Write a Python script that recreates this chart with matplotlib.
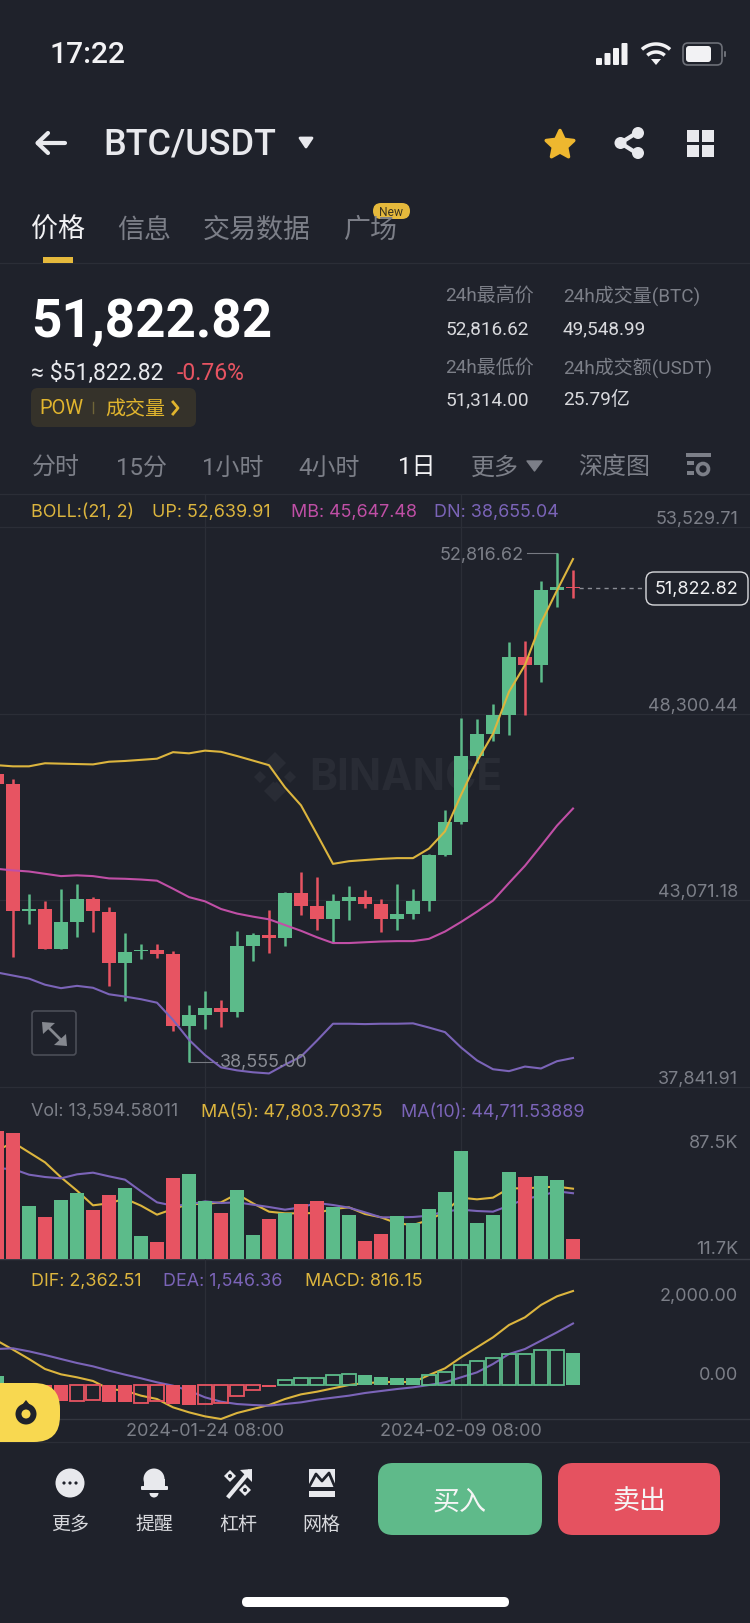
import matplotlib
matplotlib.use('Agg')
import matplotlib.pyplot as plt
import numpy as np
from matplotlib.patches import Circle, FancyBboxPatch, Polygon, Rectangle

plt.rcParams['font.family'] = ['Roboto', 'Noto Sans CJK SC', 'DejaVu Sans']
CHART_FONT = ['Inter', 'DejaVu Sans']

# ---- data ----
opens = [46616, 46326, 42767, 42821, 41717, 42478, 43121, 42756, 41309, 41642, 41674, 41556, 39551,
         39873, 40066, 39948, 41802, 42092, 42027, 43271, 42917, 42553, 43057, 43174, 42982, 42563,
         42681, 43067, 44332, 45265, 47119, 47730, 48277, 49896, 49682, 51783, 51847]
closes = [46326, 42767, 42831, 41717, 42478, 43110, 42767, 41309, 41631, 41695, 41556, 39551, 39873,
          40055, 39948, 41802, 42092, 42027, 43282, 42917, 42553, 43057, 43174, 42982, 42563, 42681,
          43067, 44332, 45265, 47119, 47730, 48277, 49896, 49682, 51783, 51847, 51822.82]
highs = [46700, 46487, 43239, 43057, 43378, 43539, 43174, 42896, 42167, 41845, 41845, 41663, 40151,
         40527, 40280, 42220, 42167, 42810, 43314, 43861, 43721, 43260, 43475, 43367, 43110, 43539,
         43378, 44364, 45597, 48191, 48149, 48567, 50314, 50346, 52029, 52816.62, 52329]
lows = [46326, 41481, 42413, 41717, 41717, 42038, 42188, 40666, 40259, 41438, 41470, 39422, 38555,
        39465, 39530, 39808, 41374, 41588, 41781, 42660, 42253, 41888, 42531, 42853, 42188, 42242,
        42553, 42767, 44311, 45222, 46937, 47527, 47698, 48277, 49199, 51300, 51536]
boll_up = [46862, 46830, 46830, 46916, 46905, 46894, 46884, 46959, 46980, 47012, 47044, 47227, 47194,
           47270, 47237, 47119, 46991, 46862, 46240, 45737, 44922, 44096, 44171, 44204, 44236, 44257,
           44257, 44525, 45008, 46026, 46969, 47741, 48920, 49671, 50850, 51761, 52639.91]
boll_mb = [43957, 43914, 43882, 43818, 43753, 43775, 43753, 43689, 43678, 43657, 43625, 43400, 43164,
           43046, 42831, 42703, 42617, 42542, 42381, 42220, 42038, 41877, 41877, 41899, 41920, 41931,
           41931, 41995, 42199, 42467, 42756, 43067, 43560, 44043, 44600, 45168, 45647.48]
boll_dn = [41052, 40966, 40880, 40709, 40612, 40677, 40623, 40441, 40377, 40302, 40205, 39723, 39165,
           38736, 38393, 38308, 38254, 38222, 38468, 38694, 39144, 39615, 39615, 39605, 39615, 39615,
           39626, 39508, 39380, 38951, 38586, 38340, 38286, 38415, 38361, 38565, 38655.04]
volumes = [86788, 85881, 36029, 28325, 40108, 44867, 33310, 43734, 48039, 15862, 11783, 55290, 57556,
           39202, 31044, 47133, 16315, 27192, 31271, 37389, 39655, 35123, 29685, 12010, 17222, 29231,
           24699, 34217, 45320, 73192, 24699, 30138, 58916, 55517, 56650, 53478, 13594.58]
vol_ma5 = [73645, 79310, 72512, 65714, 55517, 46453, 36483, 37842, 41015, 36256, 30138, 33990, 37389,
           37389, 38522, 44187, 37842, 32177, 31044, 31044, 31271, 33990, 35123, 30591, 28325, 24246,
           23113, 26512, 32177, 41694, 40561, 41694, 48039, 48039, 48719, 49172, 47803.70]
vol_ma10 = [61635, 61182, 57330, 55744, 54837, 57556, 58689, 56197, 53931, 46000, 38522, 36256, 36936,
            39202, 38069, 38522, 36936, 35350, 33537, 35123, 38069, 36709, 34896, 31724, 28325, 28325,
            28552, 29458, 32404, 33537, 32630, 32177, 36256, 40788, 43054, 46000, 44711.54]
macd_hist = [218, -67, -126, -168, -402, -402, -385, -436, -436, -444, -411, -478, -494, -478, -444,
             -268, -126, -59, 126, 184, 184, 251, 268, 251, 201, 168, 168, 251, 327, 494, 603, 679,
             788, 788, 871, 871, 816.15]
macd_hollow = [0, 0, 0, 0, 0, 1, 1, 0, 0, 1, 1, 0, 0, 1, 1, 1, 1, 0, 1, 1, 1, 1, 1, 0, 0, 0, 0, 1, 1, 1,
               1, 1, 1, 1, 1, 1, 0]
dif = [1114, 888, 653, 402, 268, 193, 101, -101, -142, -268, -352, -561, -687, -788, -855, -704, -603,
       -503, -352, -235, -168, -84, 0, 50, 67, 84, 67, 251, 419, 695, 947, 1198, 1508, 1701, 2011, 2229,
       2362.51]
dea = [905, 922, 846, 754, 653, 553, 469, 360, 260, 168, 67, -17, -142, -310, -419, -478, -503, -519,
       -478, -436, -369, -318, -268, -201, -151, -101, -59, 0, 67, 193, 318, 528, 779, 905, 1114, 1324,
       1546.36]

price_ticks = [53529.71, 48300.44, 43071.18, 37841.91]
price_tick_labels = ['53,529.71', '48,300.44', '43,071.18', '37,841.91']
date_idx = [13, 29]
date_labels = ['2024-01-24 08:00', '2024-02-09 08:00']
high_idx, low_idx, last_idx = 35, 12, 36
high_label, low_label, last_label = '52,816.62', '38,555.00', '51,822.82'

# ---- colours ----
BG = '#1f222b'
GRID = '#2b2e37'
GREEN = '#5cbb8a'
RED = '#e75462'
YELLOW = '#dcb53e'
PINK = '#c04fa6'
PURPLE = '#7b64b8'
GRAY = '#7c7f88'
LIGHT = '#e8e9ed'
W, H = 750, 1624

fig = plt.figure(figsize=(W / 100, H / 100), dpi=100, facecolor=BG)


def pixel_axes(zorder):
    ax = fig.add_axes([0, 0, 1, 1], zorder=zorder)
    ax.set_xlim(0, W)
    ax.set_ylim(H, 0)
    ax.axis('off')
    ax.patch.set_alpha(0)
    return ax


def panel(top, bottom, ymin, ymax):
    ax = fig.add_axes([0, 1 - bottom / H, 1, (bottom - top) / H], zorder=1)
    ax.set_xlim(3 / 16, 753 / 16)
    ax.set_ylim(ymin, ymax)
    ax.axis('off')
    ax.patch.set_alpha(0)
    for i in date_idx:
        ax.axvline(i, color=GRID, lw=0.9, zorder=0)
    return ax


back = pixel_axes(0)
over = pixel_axes(2)


def label(x, y, s, px, color=GRAY, ha='left', va='center', weight='normal', family=None):
    over.text(x, y, s, fontsize=px * 0.72, color=color, ha=ha, va=va, fontweight=weight,
              family=family or plt.rcParams['font.family'])


def chart_label(x, y, s, px=17.9, color=GRAY, ha='left'):
    label(x, y, s, px, color=color, ha=ha, family=CHART_FONT)


def rrect(x0, y0, x1, y1, r, fc='none', ec='none', lw=0):
    over.add_patch(FancyBboxPatch((x0, y0), x1 - x0, y1 - y0,
                                  boxstyle=f'round,pad=0,rounding_size={r}',
                                  fc=fc, ec=ec, lw=lw))


def poly(pts, color, lw=0, ax=None):
    (ax or over).add_patch(Polygon(pts, closed=True, fc=color, ec=color, lw=lw, joinstyle='round'))


def arc(cx, cy, r, lw, color=LIGHT):
    t = np.radians(np.linspace(48, 132, 30))
    over.plot(cx + r * np.cos(t), cy - r * np.sin(t), color=color, lw=lw, solid_capstyle='butt')


# ---- watermark, behind the candles ----
for dx, dy, s in [(275, 764, 11), (260, 778, 6), (290, 778, 6), (275, 792, 11)]:
    poly([(dx - s, dy), (dx, dy - s), (dx + s, dy), (dx, dy + s)], '#292c35', ax=back)
poly([(275, 772), (281, 778), (275, 784), (269, 778)], BG, ax=back)
back.text(309, 779, 'BINANCE', fontsize=30.5, color='#292c35', fontweight='bold', ha='left', va='center',
          family=CHART_FONT)

# ---- price panel ----
PX_PRICE = (53529.71 - 37841.91) / (1088 - 528.3)
ax_p = panel(495, 1088, 37841.91, 53529.71 + 33.3 * PX_PRICE)
for p in price_ticks:
    ax_p.axhline(p, color=GRID, lw=0.9, zorder=0, clip_on=False)

idx = np.arange(len(opens))
candle_colors = [GREEN if c >= o else RED for o, c in zip(opens, closes)]
ax_p.vlines(idx, lows, highs, colors=candle_colors, lw=1.8, zorder=2)
ax_p.bar(idx, np.array(closes) - np.array(opens), bottom=opens, width=0.875, color=candle_colors, zorder=2)
ax_p.plot(idx, boll_mb, color=PINK, lw=1.5, zorder=3)
ax_p.plot(idx, boll_dn, color=PURPLE, lw=1.5, zorder=3)
ax_p.plot(idx, boll_up, color=YELLOW, lw=1.5, zorder=3)

ax_p.plot([high_idx - 1.9, high_idx], [highs[high_idx]] * 2, color='#777a82', lw=0.8, zorder=1)
ax_p.text(high_idx - 2.06, highs[high_idx] - 50, high_label, color=GRAY, fontsize=18 * 0.72, ha='right', va='center',
          family=CHART_FONT)
ax_p.plot([low_idx, low_idx + 1.75], [lows[low_idx]] * 2, color='#777a82', lw=0.8, zorder=1)
ax_p.text(low_idx + 1.95, lows[low_idx], low_label, color='#8a8d95', fontsize=18 * 0.72, ha='left', va='center',
          zorder=4, family=CHART_FONT)
ax_p.plot([last_idx + 0.4, last_idx + 4.56], [closes[last_idx]] * 2, color='#8a8d95', lw=1, ls=(0, (3, 3)), zorder=1)

for y, s in zip([520, 706.5, 893, 1079.5], price_tick_labels):
    chart_label(738, y, s, 18, ha='right')
rrect(646, 573, 748, 606, 8, fc=BG, ec='#d8d9dd', lw=1)
chart_label(738, 589.5, last_label, 18, color='#f0f0f2', ha='right')

chart_label(31, 512, 'BOLL:(21, 2)', color=YELLOW)
chart_label(152, 512, 'UP: 52,639.91', color=YELLOW)
chart_label(291, 512, 'MB: 45,647.48', color=PINK)
chart_label(434, 512, 'DN: 38,655.04', color=PURPLE)
back.plot([0, W], [495, 495], color=GRID, lw=0.9)

# ---- volume panel ----
ax_v = panel(1088, 1260, 0, 116926)
ax_v.plot(idx, vol_ma5, color=YELLOW, lw=1.5, zorder=2)
ax_v.plot(idx, vol_ma10, color=PURPLE, lw=1.5, zorder=2)
ax_v.bar(idx, volumes, width=0.875, color=candle_colors, zorder=3)
ax_v.axhline(0, color='#3a3d46', lw=1, zorder=1, clip_on=False)
chart_label(31, 1112, 'Vol: 13,594.58011')
chart_label(201, 1112, 'MA(5): 47,803.70375', color=YELLOW)
chart_label(401, 1112, 'MA(10): 44,711.53889', color=PURPLE)
chart_label(738, 1144, '87.5K', 18, ha='right')
chart_label(738, 1250, '11.7K', 18, ha='right')

# ---- MACD panel ----
PX_MACD = 8.378 * 3
ax_m = panel(1260, 1420, -34 * PX_MACD, 126 * PX_MACD)
ax_m.plot(idx, dif, color=YELLOW, lw=1.5, zorder=2, clip_on=False)
ax_m.plot(idx, dea, color=PURPLE, lw=1.5, zorder=2)
for i, v in enumerate(macd_hist):
    c = GREEN if v >= 0 else RED
    ax_m.bar(i, v, width=0.84 if macd_hollow[i] else 0.875, facecolor='none' if macd_hollow[i] else c,
             edgecolor=c, lw=1.3 if macd_hollow[i] else 0, zorder=3)
ax_m.axhline(-34 * PX_MACD, color='#33363f', lw=1, zorder=0, clip_on=False)
for i, s in zip(date_idx, date_labels):
    ax_m.text(i, -0.075, s, transform=ax_m.get_xaxis_transform(), color=GRAY, fontsize=18 * 0.72,
              ha='center', va='center', clip_on=False, family=CHART_FONT)
chart_label(31, 1282, 'DIF: 2,362.51', color=YELLOW)
chart_label(163, 1282, 'DEA: 1,546.36', color=PURPLE)
chart_label(305, 1282, 'MACD: 816.15', color=YELLOW)
chart_label(738, 1297, '2,000.00', 18, ha='right')
chart_label(738, 1376, '0.00', 18, ha='right')
back.plot([0, W], [1442.7, 1442.7], color=GRID, lw=0.9)

# ---- status bar ----
label(49, 55, '17:22', 30, color='#f2f2f4', weight='medium')
for x, top in zip([596, 604.5, 613, 621.5], [59, 54, 49, 44]):
    rrect(x, top, x + 6, 66, 1, fc='#f2f2f4')
arc(656, 66, 21, 2.5, '#f2f2f4')
arc(656, 66, 13, 2.5, '#f2f2f4')
poly([(651, 60), (661, 60), (656, 66)], '#f2f2f4')
rrect(683, 44, 722, 66, 5, ec='#6c6f77', lw=1.2)
rrect(686, 47, 711, 63, 3, fc='#f2f2f4')
rrect(724, 52, 726, 58, 1, fc='#6c6f77')

# ---- title row ----
over.plot([38, 65], [144, 144], color=LIGHT, lw=3, solid_capstyle='round')
over.plot([48, 37.5, 48], [134, 144, 154], color=LIGHT, lw=3, solid_capstyle='round', solid_joinstyle='round')
label(103, 145, 'BTC/USDT', 36, color=LIGHT, weight='medium')
poly([(300, 139), (312, 139), (306, 148)], LIGHT, lw=2)
t = np.radians(np.arange(10) * 36)
r = np.where(np.arange(10) % 2 == 0, 14.5, 7)
poly(np.c_[560 + r * np.sin(t), 146 - r * np.cos(t)], '#eeb72f', lw=2.5)
over.plot([638, 620.5, 638], [133, 144, 155], color=LIGHT, lw=3)
for cx, cy, rr in [(638, 134, 6), (620.5, 144, 6), (638, 154, 6)]:
    over.add_patch(Circle((cx, cy), rr, fc=LIGHT, ec='none'))
for x0, y0 in [(687, 131), (702, 131), (687, 146), (702, 146)]:
    over.add_patch(Rectangle((x0, y0), 12, 12, fc=LIGHT, ec='none'))

# ---- tabs ----
label(31, 230, '价格', 27, color='#f2f2f4')
for x, s in [(117, '信息'), (203, '交易数据'), (344, '广场')]:
    label(x, 230, s, 27)
rrect(373, 204, 410, 220, 8, fc='#e5b93c')
label(391.5, 212, 'New', 12, color='#3b3420', ha='center')
over.add_patch(Rectangle((43, 258), 30, 5.5, fc='#e5b93c', ec='none'))
back.plot([0, W], [263.5, 263.5], color=GRID, lw=0.9)

# ---- ticker block ----
label(31, 322, '51,822.82', 53, color='#ffffff', weight='bold')
label(31, 373, '≈ $51,822.82', 23, color=LIGHT)
label(177, 373, '-0.76%', 23, color=RED)
rrect(31, 389, 196, 428, 7, fc='#35322a')
label(39, 409, 'POW', 20, color='#e0b42e')
over.plot([93, 93], [403, 414], color='#6f6538', lw=1)
label(105, 410, '成交量', 20, color='#e0b42e')
over.plot([173, 178, 173], [403, 409, 415], color='#e0b42e', lw=2)
label(445.5, 296, '24h最高价', 19)
label(563, 296, '24h成交量(BTC)', 19)
label(445.5, 329, '52,816.62', 19, color='#d8d9dd')
label(563, 329, '49,548.99', 19, color='#d8d9dd')
label(445.5, 368, '24h最低价', 19)
label(563, 368, '24h成交额(USDT)', 19)
label(445.5, 400, '51,314.00', 19, color='#d8d9dd')
label(563, 400, '25.79亿', 19, color='#d8d9dd')

# ---- interval row ----
for x, s in [(31.5, '分时'), (116.5, '15分'), (202.5, '1小时'), (298, '4小时'), (470.5, '更多'), (578, '深度图')]:
    label(x, 468, s, 24)
label(397.5, 468, '1日', 24, color='#f2f2f4')
poly([(527, 462), (542, 462), (534.5, 472)], GRAY, lw=1)
over.add_patch(Rectangle((686, 454), 25, 3.5, fc=GRAY, ec='none'))
over.add_patch(Rectangle((687, 462), 7, 4, fc=GRAY, ec='none'))
over.add_patch(Rectangle((687, 472), 7, 4, fc=GRAY, ec='none'))
over.add_patch(Circle((703, 470), 5.5, fc='none', ec=GRAY, lw=2.6))

# ---- small chart controls ----
rrect(32, 1012, 76, 1056, 3, ec='#4b4e57', lw=1.2)
over.plot([46, 63], [1026, 1043], color='#85888f', lw=2)
poly([(42, 1023), (55, 1024), (43, 1035)], '#85888f')
poly([(67, 1047), (54, 1046), (66, 1035)], '#85888f')

rrect(-30, 1384, 60, 1443, 26, fc='#f8d850')
over.add_patch(Circle((26, 1415), 10.5, fc='#1f222b', ec='none'))
poly([(26, 1401), (16.5, 1413), (35.5, 1413)], '#1f222b')
over.add_patch(Circle((26, 1415), 4.5, fc='#f8d850', ec='none'))

# ---- bottom bar ----
ICON = '#e8e9ed'
over.add_patch(Circle((70, 1484), 14.5, fc=ICON, ec='none'))
for x in [64, 70, 76]:
    over.add_patch(Circle((x, 1484), 1.6, fc=BG, ec='none'))
over.add_patch(Circle((154, 1494), 4.5, fc=ICON, ec='none'))
over.add_patch(Rectangle((148, 1485), 12, 9, fc=BG, ec='none'))
over.add_patch(Circle((154, 1480), 10.5, fc=ICON, ec='none'))
over.add_patch(Rectangle((143.5, 1480), 21, 9, fc=ICON, ec='none'))
rrect(141, 1487, 168, 1491, 1, fc=ICON)
over.plot([229, 249], [1497, 1473], color=ICON, lw=3)
poly([(240, 1471), (252, 1470), (252, 1483)], ICON)
for cx, cy in [(230, 1477), (245, 1491)]:
    poly([(cx - 6, cy), (cx, cy - 6), (cx + 6, cy), (cx, cy + 6)], ICON)
    over.add_patch(Circle((cx, cy), 2, fc=BG, ec='none'))
over.add_patch(Rectangle((309, 1470), 26, 18, fc=ICON, ec='none'))
over.plot([309, 316, 322, 329, 335], [1488, 1475, 1482, 1474, 1488], color=BG, lw=2)
over.add_patch(Rectangle((309, 1492), 26, 5.5, fc=ICON, ec='none'))
for x, s in [(70, '更多'), (154, '提醒'), (238, '杠杆'), (321.5, '网格')]:
    label(x, 1525, s, 19, color='#d8d9dd', ha='center')
rrect(378, 1464, 542, 1536, 15, fc='#5fba8a')
label(460, 1502, '买入', 27, color='#f5f5f5', ha='center')
rrect(558, 1464, 720, 1536, 15, fc='#e55260')
label(639, 1502, '卖出', 27, color='#f5f5f5', ha='center')
rrect(242, 1598, 509, 1608, 5, fc='#ffffff')

fig.savefig('out.png', dpi=100, facecolor=BG)
